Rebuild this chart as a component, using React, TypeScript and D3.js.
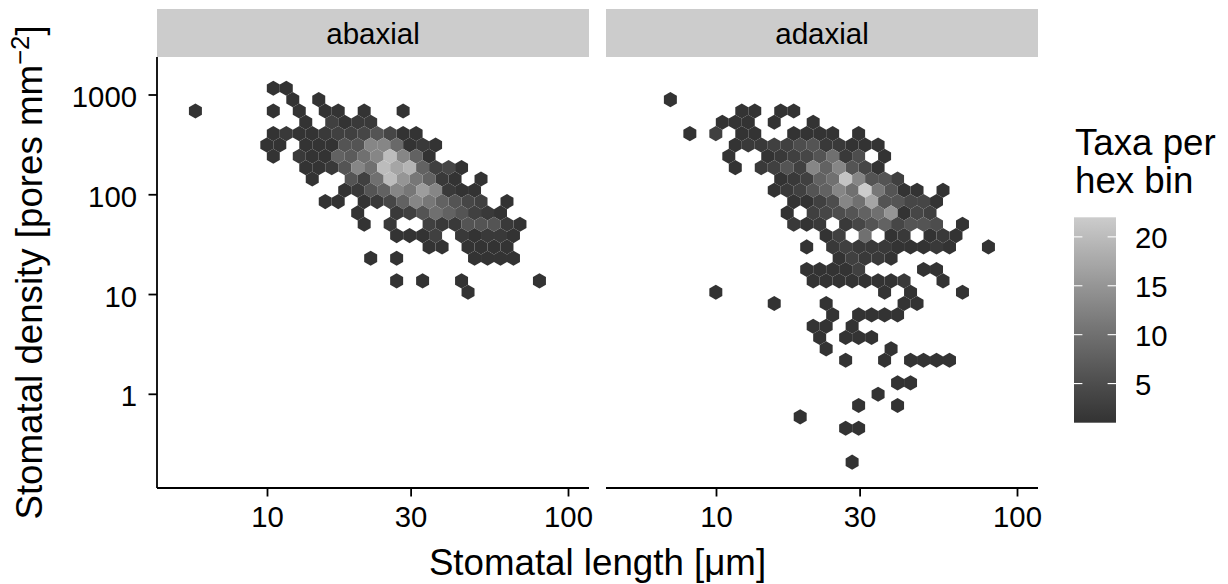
import * as d3 from "d3";

const panelNames = ["abaxial", "adaxial"];
const xTicks = [10, 30, 100];
const yTicks = [1, 10, 100, 1000];
const legendTicks = [5, 10, 15, 20];
const countRange = [1, 22];

// hex bins: [row, col, taxa per bin]
const abaxialBins: [number, number, number][] = [
  [0, 0, 1], [0, 1, 1],
  [1, 1, 1], [1, 3, 1],
  [2, -6, 1], [2, 0, 1], [2, 2, 1], [2, 4, 1], [2, 5, 1], [2, 7, 1], [2, 10, 1],
  [3, 2, 1], [3, 4, 3], [3, 5, 1], [3, 6, 2], [3, 7, 2],
  [4, 0, 1], [4, 1, 2], [4, 2, 1], [4, 3, 1], [4, 4, 2], [4, 5, 3], [4, 6, 3], [4, 7, 4], [4, 8, 6], [4, 9, 4], [4, 10, 1], [4, 11, 1],
  [5, -1, 1], [5, 0, 1], [5, 2, 1], [5, 3, 1], [5, 4, 1], [5, 5, 6], [5, 6, 6], [5, 7, 13], [5, 8, 13], [5, 9, 9], [5, 10, 1], [5, 11, 2], [5, 12, 1],
  [6, 0, 1], [6, 2, 2], [6, 3, 1], [6, 4, 1], [6, 5, 8], [6, 6, 7], [6, 7, 10], [6, 8, 13], [6, 9, 20], [6, 10, 13], [6, 11, 8], [6, 12, 1],
  [7, 2, 1], [7, 3, 1], [7, 4, 2], [7, 5, 6], [7, 6, 13], [7, 7, 10], [7, 8, 20], [7, 9, 17], [7, 10, 19], [7, 11, 8], [7, 12, 3], [7, 13, 4], [7, 14, 1],
  [8, 3, 1], [8, 6, 6], [8, 7, 3], [8, 8, 10], [8, 9, 20], [8, 10, 15], [8, 11, 11], [8, 12, 8], [8, 13, 2], [8, 14, 1], [8, 16, 1],
  [9, 5, 1], [9, 6, 2], [9, 7, 6], [9, 8, 8], [9, 9, 13], [9, 10, 11], [9, 11, 16], [9, 12, 13], [9, 13, 2], [9, 14, 1], [9, 15, 1],
  [10, 4, 1], [10, 5, 1], [10, 7, 1], [10, 8, 2], [10, 9, 4], [10, 10, 8], [10, 11, 13], [10, 12, 11], [10, 13, 8], [10, 14, 6], [10, 15, 4], [10, 16, 3], [10, 18, 1],
  [11, 6, 1], [11, 9, 2], [11, 10, 3], [11, 11, 6], [11, 12, 10], [11, 13, 8], [11, 14, 6], [11, 15, 3], [11, 16, 2], [11, 17, 1],
  [12, 7, 1], [12, 9, 2], [12, 12, 3], [12, 13, 2], [12, 14, 2], [12, 15, 6], [12, 16, 6], [12, 17, 6], [12, 18, 2], [12, 19, 1],
  [13, 9, 1], [13, 10, 1], [13, 11, 1], [13, 12, 3], [13, 14, 2], [13, 15, 1], [13, 16, 2], [13, 17, 2], [13, 18, 1],
  [14, 12, 1], [14, 13, 1], [14, 15, 1], [14, 16, 1], [14, 17, 1], [14, 18, 1],
  [15, 7, 1], [15, 9, 1], [15, 15, 1], [15, 16, 1], [15, 17, 1], [15, 18, 1],
  [17, 9, 1], [17, 11, 1], [17, 14, 1], [17, 20, 1],
  [18, 15, 1],
];

const adaxialBins: [number, number, number][] = [
  [1, -5, 1],
  [2, 0, 1], [2, 1, 1], [2, 3, 1], [2, 4, 1],
  [3, -1, 1], [3, 0, 1], [3, 1, 1], [3, 3, 1], [3, 6, 1],
  [4, -4, 1], [4, -2, 3], [4, 0, 1], [4, 1, 1], [4, 4, 1], [4, 5, 1], [4, 6, 1], [4, 7, 1], [4, 9, 1],
  [5, 0, 1], [5, 1, 2], [5, 2, 2], [5, 3, 3], [5, 4, 3], [5, 5, 5], [5, 6, 6], [5, 7, 2], [5, 8, 2], [5, 9, 1], [5, 10, 1], [5, 11, 1],
  [6, -1, 1], [6, 2, 1], [6, 3, 2], [6, 4, 3], [6, 5, 4], [6, 6, 6], [6, 7, 10], [6, 8, 2], [6, 9, 5], [6, 11, 1],
  [7, 0, 1], [7, 2, 2], [7, 3, 3], [7, 4, 6], [7, 5, 3], [7, 6, 13], [7, 7, 8], [7, 8, 13], [7, 9, 6], [7, 10, 4], [7, 11, 1],
  [8, 3, 1], [8, 4, 2], [8, 5, 3], [8, 6, 8], [8, 7, 10], [8, 8, 21], [8, 9, 13], [8, 10, 6], [8, 11, 6], [8, 12, 3],
  [9, 3, 1], [9, 4, 2], [9, 5, 3], [9, 6, 6], [9, 7, 8], [9, 8, 13], [9, 9, 10], [9, 10, 22], [9, 11, 11], [9, 12, 6], [9, 13, 1], [9, 14, 1], [9, 16, 1],
  [10, 4, 1], [10, 5, 1], [10, 6, 3], [10, 7, 5], [10, 8, 13], [10, 9, 10], [10, 10, 17], [10, 11, 6], [10, 12, 6], [10, 13, 4], [10, 14, 4], [10, 15, 1],
  [11, 4, 1], [11, 6, 3], [11, 7, 4], [11, 8, 5], [11, 9, 6], [11, 10, 8], [11, 11, 10], [11, 12, 15], [11, 13, 1], [11, 14, 4], [11, 15, 3],
  [12, 4, 2], [12, 5, 1], [12, 6, 2], [12, 8, 2], [12, 9, 4], [12, 10, 6], [12, 11, 8], [12, 12, 4], [12, 13, 6], [12, 14, 6], [12, 15, 5], [12, 17, 1],
  [13, 7, 1], [13, 8, 3], [13, 10, 10], [13, 12, 1], [13, 13, 2], [13, 15, 1], [13, 16, 2], [13, 17, 1],
  [14, 5, 1], [14, 7, 2], [14, 8, 3], [14, 9, 2], [14, 10, 2], [14, 11, 2], [14, 12, 1], [14, 13, 1], [14, 14, 1], [14, 15, 2], [14, 16, 1], [14, 19, 1],
  [15, 8, 1], [15, 9, 3], [15, 10, 2], [15, 11, 2], [15, 12, 1],
  [16, 5, 1], [16, 6, 1], [16, 7, 1], [16, 8, 1], [16, 9, 3], [16, 14, 1], [16, 15, 1],
  [17, 6, 1], [17, 7, 1], [17, 8, 1], [17, 9, 1], [17, 10, 1], [17, 11, 1], [17, 12, 1], [17, 13, 2], [17, 16, 1],
  [18, -2, 1], [18, 11, 1], [18, 13, 1], [18, 17, 1],
  [19, 3, 1], [19, 7, 1], [19, 13, 1], [19, 14, 1],
  [20, 7, 1], [20, 9, 1], [20, 10, 1], [20, 11, 1], [20, 12, 1],
  [21, 6, 1], [21, 7, 1], [21, 9, 1],
  [22, 6, 1], [22, 8, 1], [22, 9, 1], [22, 10, 1],
  [23, 7, 1], [23, 12, 1],
  [24, 8, 1], [24, 11, 1], [24, 13, 1], [24, 14, 1], [24, 15, 1], [24, 16, 1],
  [26, 12, 1], [26, 13, 1],
  [27, 11, 1],
  [28, 9, 1], [28, 12, 1],
  [29, 5, 1],
  [30, 8, 1], [30, 9, 1],
  [33, 9, 1],
];

// hex grid in log10 units (col 0 of even rows, row 0), and column shift for [even, odd] rows
const gridX0 = 1.0193;
const gridDX = 0.04313;
const gridY0 = 3.0672;
const gridDY = 0.11356;
const panelBins = [abaxialBins, adaxialBins];
const panelShift = [[0, 0.5], [1.5, 1]];

const FONT = "'Liberation Sans', Arial, Helvetica, sans-serif";
const panelW = 432;
const panelH = 431;
const panelTop = 57;
const panelLefts = [157, 606];
const stripH = 48;
const axisW = 1.8;

const x = d3.scaleLog().domain([Math.pow(10, 0.6329), Math.pow(10, 2.0681)]).range([0, panelW]);
const y = d3.scaleLog().domain([Math.pow(10, -0.9392), Math.pow(10, 3.3809)]).range([panelH, 0]);
const fill = d3
  .scaleLinear<string>()
  .domain(countRange)
  .range(["#333333", "#cccccc"])
  .interpolate(d3.interpolateLab);

function hexPath(row: number, col: number, shift: number[]) {
  const cx = gridX0 + (col + shift[row % 2]) * gridDX;
  const cy = gridY0 - row * gridDY;
  const hx = gridDX / 2;
  const pts: [number, number][] = [
    [cx + hx, cy + gridDY / 3],
    [cx, cy + (2 * gridDY) / 3],
    [cx - hx, cy + gridDY / 3],
    [cx - hx, cy - gridDY / 3],
    [cx, cy - (2 * gridDY) / 3],
    [cx + hx, cy - gridDY / 3],
  ];
  return (
    "M" +
    pts.map(([a, b]) => `${x(Math.pow(10, a)).toFixed(2)},${y(Math.pow(10, b)).toFixed(2)}`).join("L") +
    "Z"
  );
}

export default function App() {
  const legX = 1074;
  const legW = 42;
  const legTop = 217.3;
  const legBottom = 422.7;
  const leg = d3.scaleLinear().domain(countRange).range([legBottom, legTop]);
  const stops = d3.range(countRange[0], countRange[1] + 1);

  return (
    <svg
      width={1228}
      height={584}
      style={{ position: "absolute", left: 0, top: 0, background: "#fff" }}
      fontFamily={FONT}
    >
      <defs>
        <linearGradient id="legGrad" x1="0" y1="1" x2="0" y2="0">
          {stops.map((s) => (
            <stop
              key={s}
              offset={(s - countRange[0]) / (countRange[1] - countRange[0])}
              stopColor={fill(s)}
            />
          ))}
        </linearGradient>
      </defs>

      {panelNames.map((name, p) => (
        <g key={name} transform={`translate(${panelLefts[p]},${panelTop})`}>
          {/* strip */}
          <rect x={0} y={-stripH} width={panelW} height={stripH} fill="#cccccc" />
          <text x={panelW / 2} y={-stripH / 2 + 10.5} textAnchor="middle" fontSize={29.5} fill="#000">
            {name}
          </text>

          {/* hexes */}
          {panelBins[p].map(([r, c, n]) => (
            <path key={`${r}_${c}`} d={hexPath(r, c, panelShift[p])} fill={fill(n)} />
          ))}

          {/* x axis */}
          <line x1={0} x2={panelW} y1={panelH} y2={panelH} stroke="#000" strokeWidth={axisW} />
          {xTicks.map((t) => (
            <g key={t} transform={`translate(${x(t)},${panelH})`}>
              <line y1={0} y2={8.5} stroke="#000" strokeWidth={axisW} />
              <text y={38.5} textAnchor="middle" fontSize={29.3} fill="#000">
                {t}
              </text>
            </g>
          ))}

          {/* y axis on first panel only */}
          {p === 0 && (
            <g>
              <line x1={0} x2={0} y1={0} y2={panelH} stroke="#000" strokeWidth={axisW} />
              {yTicks.map((t) => (
                <g key={t} transform={`translate(0,${y(t)})`}>
                  <line x1={-8.5} x2={0} stroke="#000" strokeWidth={axisW} />
                  <text x={-20} y={12} textAnchor="end" fontSize={29.3} fill="#000">
                    {t}
                  </text>
                </g>
              ))}
            </g>
          )}
        </g>
      ))}

      {/* axis titles */}
      <text x={597.5} y={575} textAnchor="middle" fontSize={36.7} fill="#000">
        Stomatal length [μm]
      </text>
      <text transform="rotate(-90)" x={-272.5} y={41.7} textAnchor="middle" fontSize={36.7} fill="#000">
        Stomatal density [pores mm
        <tspan fontSize={25.7} dy={-13}>
          −2
        </tspan>
        <tspan dy={13}>]</tspan>
      </text>

      {/* legend */}
      <text x={1075} y={155} fontSize={36.7} fill="#000">
        Taxa per
      </text>
      <text x={1075} y={193.3} fontSize={36.7} fill="#000">
        hex bin
      </text>
      <rect x={legX} y={legTop} width={legW} height={legBottom - legTop} fill="url(#legGrad)" />
      {legendTicks.map((t) => (
        <g key={t}>
          <line x1={legX} x2={legX + 8.4} y1={leg(t)} y2={leg(t)} stroke="#fff" strokeWidth={1.1} />
          <line x1={legX + legW - 8.4} x2={legX + legW} y1={leg(t)} y2={leg(t)} stroke="#fff" strokeWidth={1.1} />
          <text x={1135} y={leg(t) + 11} fontSize={29.3} fill="#000">
            {t}
          </text>
        </g>
      ))}
    </svg>
  );
}
